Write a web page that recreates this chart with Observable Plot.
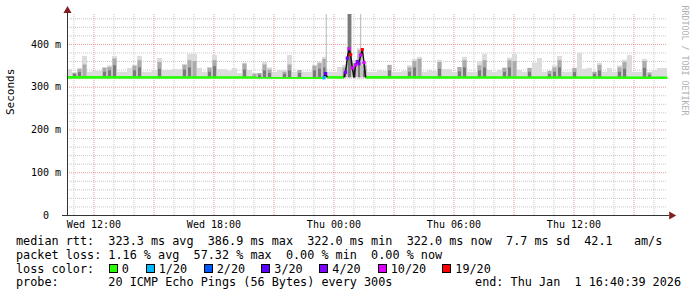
<!DOCTYPE html>
<html><head><meta charset="utf-8">
<script src="https://cdn.jsdelivr.net/npm/d3@7"></script>
<script src="https://cdn.jsdelivr.net/npm/@observablehq/plot@0.6"></script>
<style>
body{margin:0;background:#fff;}
#wrap{position:relative;width:697px;height:297px;overflow:hidden;font-family:"DejaVu Sans Mono",monospace;}
.lg{position:absolute;font-size:11.8px;line-height:14px;white-space:pre;color:#000;}
.box{position:absolute;width:7px;height:7px;border:1px solid #000;top:264px;}
</style></head><body><div id="wrap"></div>
<script>
// ---- data ----
const startTime = "2025-12-31T10:40:39";
const endTime = "2026-01-01T16:40:39";
const binMinutes = 15;
const minRtt = 322.0;
// top of the light smoke (max ping) per 15-minute bin, ms
const smokeHi = [
341,334,344,372,335,337,337,346,350,372,
335,335,344,351,372,335,335,339,367,339,
339,341,341,353,377,377,344,335,346,374,
341,341,337,344,332,356,339,332,332,358,
345,335,339,339,374,335,339,335,335,351,
358,370,335,335,346,351,470,363,390,358,
335,335,339,337,351,335,335,337,350,365,
370,335,339,337,363,341,341,335,346,370,
335,335,360,377,339,335,339,345,368,377,
339,335,344,356,367,335,337,350,372,335,
335,344,379,342,344,335,356,335,344,335,
350,363,374,335,335,365,335,339,344,344];
// top of the medium smoke layer
const smokeMid = [
null,332,341,352,null,null,null,344,346,366,
null,null,null,349,362,null,null,null,358,null,
null,null,null,351,362,360,null,null,344,362,
null,null,null,null,null,354,null,330,332,352,
340,null,null,335,352,null,339,null,null,349,
355,365,null,null,null,345,470,355,385,350,
null,null,null,null,351,null,null,null,345,360,
365,null,null,null,358,null,null,null,346,362,
null,null,350,362,null,null,null,344,362,360,
null,null,344,null,null,null,337,345,362,null,
null,344,null,null,null,335,351,null,null,null,
345,358,null,null,null,360,333,null,null,null];
// top of the dark smoke layer
const smokeDark = [
null,330,334,null,null,null,null,335,338,350,
null,null,null,338,345,null,null,null,342,null,
null,null,null,340,345,null,null,null,335,348,
null,null,null,null,null,340,null,null,328,338,
332,null,null,330,338,null,332,null,null,338,
342,345,null,null,null,335,470,340,355,338,
null,null,null,null,338,null,null,null,335,345,
null,null,null,null,342,null,null,null,336,345,
null,null,338,345,null,null,null,335,345,null,
null,null,335,null,null,null,330,335,345,null,
null,334,null,null,null,330,338,null,null,null,
335,342,null,null,null,344,328,null,null,null];
const outlierTimes = ["2025-12-31T23:37:00", "2026-01-01T01:20:00"];
const outlierMax = [470, 470];
const medTimes = [
"2025-12-31T10:40:39","2025-12-31T23:25:00","2025-12-31T23:30:00","2025-12-31T23:35:00",
"2025-12-31T23:40:00","2026-01-01T00:30:00","2026-01-01T00:35:00","2026-01-01T00:40:00",
"2026-01-01T00:45:00","2026-01-01T00:50:00","2026-01-01T00:55:00","2026-01-01T01:00:00",
"2026-01-01T01:05:00","2026-01-01T01:10:00","2026-01-01T01:15:00","2026-01-01T01:20:00",
"2026-01-01T01:25:00","2026-01-01T01:30:00","2026-01-01T01:35:00","2026-01-01T16:40:39"];
const medValues = [323,322.5,322,332,323,323,335,368,390,376,345,323,352,360,355,375,388,358,323,322];
const medLoss = [0,0,1,3,0,0,4,4,10,19,10,0,10,4,4,10,19,10,0,0];
const lossLevels = [0,1,2,3,4,10,19];
const lossLabels = ["0","1/20","2/20","3/20","4/20","10/20","19/20"];
const lossColors = ["#26ff00","#00b8ff","#0059ff","#5e00ff","#7e00ff","#dd00ff","#ff0000"];
const yTicks = [0,100,200,300,400];
const yTickLabels = ["0\u00a0\u00a0","100 m","200 m","300 m","400 m"];
const xTicks = ["2025-12-31T12:00:00","2025-12-31T18:00:00","2026-01-01T00:00:00","2026-01-01T06:00:00","2026-01-01T12:00:00"];
const yLabel = "Seconds";
const watermark = "RRDTOOL / TOBI OETIKER";
const lineRtt = "median rtt:  323.3 ms avg  386.9 ms max  322.0 ms min  322.0 ms now  7.7 ms sd  42.1   am/s";
const lineLoss = "packet loss: 1.16 % avg  57.32 % max  0.00 % min  0.00 % now";
const lineColorTitle = "loss color:";
const lineProbe = "probe:       20 ICMP Echo Pings (56 Bytes) every 300s";
const lineEnd = "end: Thu Jan  1 16:40:39 2026";

// ---- derived tables ----
const t0 = new Date(startTime), t1 = new Date(endTime);
const addMin = (d, m) => new Date(+d + m * 60000);
const bins = smokeHi.map((hi, i) => ({
  x1: addMin(t0, i * binMinutes), x2: addMin(t0, (i + 1) * binMinutes),
  hi, mid: smokeMid[i], dark: smokeDark[i]
}));
const outliers = outlierTimes.map((t, i) => ({x: new Date(t), max: outlierMax[i]}));
const med = medTimes.map((t, i) => ({x: new Date(t), y: medValues[i], loss: medLoss[i]}));
const lossColor = l => { let c = lossColors[0]; lossLevels.forEach((lv, k) => { if (l >= lv) c = lossColors[k]; }); return c; };
const segs = med.slice(1).map((d, i) => ({a: med[i], b: d, flat: med[i].y < 326 && d.y < 326}));
const hours = d3.timeHour.range(d3.timeHour.ceil(t0), t1);
const minorX = hours.filter(h => h.getHours() % 3 !== 0);
const majorX = hours.filter(h => h.getHours() % 3 === 0);
const minorY = d3.range(20, 470, 20).filter(v => v % 100 !== 0);
const majorY = [100, 200, 300, 400];
const mono = "DejaVu Sans Mono";

const chart = Plot.plot({
  width: 697, height: 232,
  marginLeft: 67, marginRight: 30, marginTop: 14, marginBottom: 17,
  style: {fontFamily: mono, fontSize: "10px", background: "#fff", overflow: "visible"},
  x: {type: "time", domain: [t0, t1]},
  y: {domain: [0, 470]},
  color: {type: "identity"},
  marks: [
    Plot.ruleX(minorX, {stroke: "#c8c8c8", strokeDasharray: "1,1"}),
    Plot.ruleY(minorY, {stroke: "#c8c8c8", strokeDasharray: "1,1"}),
    Plot.ruleX(majorX, {stroke: "#ec9a9a", strokeDasharray: "1,1"}),
    Plot.ruleY(majorY, {stroke: "#ec9a9a", strokeDasharray: "1,1"}),
    Plot.rectY(bins, {x1: "x1", x2: "x2", y1: minRtt, y2: "hi", fill: "#dcdcdc"}),
    Plot.rectY(bins.filter(d => d.mid != null), {x1: "x1", x2: "x2", y1: minRtt, y2: "mid", fill: "#ababab", insetLeft: 0.5, insetRight: 0.5}),
    Plot.rectY(bins.filter(d => d.dark != null), {x1: "x1", x2: "x2", y1: minRtt, y2: "dark", fill: "#7a7a7a", insetLeft: 1, insetRight: 1}),
    Plot.ruleX(outliers, {x: "x", y1: minRtt, y2: "max", stroke: "#c4c4c4", strokeWidth: 1.2}),
    Plot.link(segs.filter(s => s.flat), {x1: d => d.a.x, y1: d => d.a.y, x2: d => d.b.x, y2: d => d.b.y, stroke: lossColors[0], strokeWidth: 2.6}),
    Plot.link(segs.filter(s => !s.flat), {x1: d => d.a.x, y1: d => d.a.y, x2: d => d.b.x, y2: d => d.b.y, stroke: "#111", strokeWidth: 1.5}),
    Plot.dot(med.filter(d => d.loss > 0), {x: "x", y: "y", symbol: "square", r: 1.8, fill: d => lossColor(d.loss), stroke: null}),
    Plot.ruleX([t0], {y1: 0, y2: 476, stroke: "#333"}),
    Plot.ruleY([0], {x1: addMin(t0, -15), x2: addMin(t1, 6), stroke: "#333"}),
    Plot.dot([t0], {x: d => d, y: 479, symbol: "triangle", r: 3, fill: "#7f1f1f", stroke: null}),
    Plot.dot([t1], {x: d => addMin(d, 12), y: 0, symbol: "triangle", r: 3, rotate: 90, fill: "#7f1f1f", stroke: null}),
    Plot.axisX(xTicks.map(d => new Date(d)), {tickSize: 0, tickPadding: 5.5, tickFormat: d3.timeFormat("%a %H:%M"), label: null, fontSize: 10, fill: "#000"}),
    Plot.axisY(yTicks, {tickSize: 0, tickPadding: 6.5, tickFormat: d => yTickLabels[yTicks.indexOf(d)], label: null, fontSize: 10, fill: "#000"}),
    Plot.text([yLabel], {frameAnchor: "left", dx: -57, rotate: -90, text: d => d, fontSize: 11, fill: "#000"}),
    Plot.text([watermark], {frameAnchor: "top-right", dx: 20, dy: -9, rotate: 90, textAnchor: "start", text: d => d, fontSize: 8.3, fill: "#b0b0b0"})
  ]
});
const wrap = document.getElementById("wrap");
wrap.appendChild(chart);
chart.style.position = "absolute"; chart.style.left = "0"; chart.style.top = "0";

function addLine(txt, top, left, right) {
  const d = document.createElement("div");
  d.className = "lg"; d.textContent = txt; d.style.top = top + "px";
  if (right != null) d.style.right = right + "px"; else d.style.left = left + "px";
  wrap.appendChild(d);
}
addLine(lineRtt, 234, 16);
addLine(lineLoss, 247.7, 16);
addLine(lineColorTitle, 261.7, 16);
addLine(lineProbe, 275.3, 16);
addLine(lineEnd, 275.3, null, 16);
const boxX = [108.7, 145.7, 203.7, 261.3, 319.3, 377.7, 442.3];
lossLabels.forEach((lab, i) => {
  const b = document.createElement("div");
  b.className = "box"; b.style.left = boxX[i] + "px"; b.style.background = lossColors[i];
  wrap.appendChild(b);
  addLine(lab, 261.7, boxX[i] + 13);
});
</script></body></html>
